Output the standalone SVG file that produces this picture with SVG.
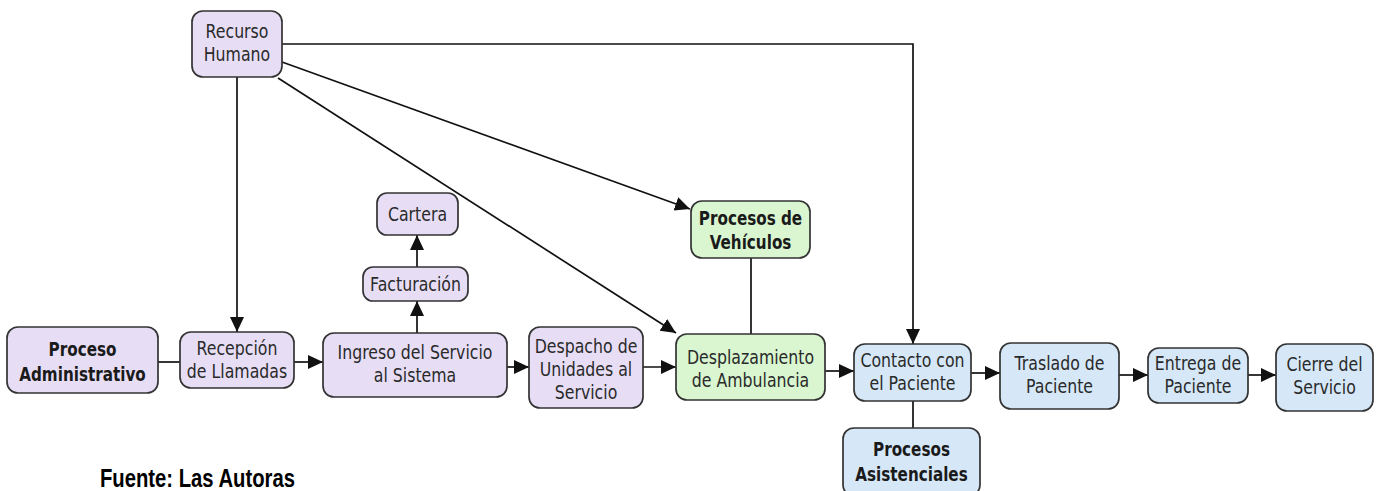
<svg xmlns="http://www.w3.org/2000/svg" width="1378" height="491" viewBox="0 0 1378 491">
<defs>
<marker id="ah" markerUnits="userSpaceOnUse" markerWidth="16" markerHeight="16" refX="15" refY="8" orient="auto">
<path d="M0,1 L15,8 L0,15 Z" fill="#111"/>
</marker>
<style>
.box{stroke:#333;stroke-width:1.7}
.p{fill:#e7def6}
.g{fill:#d9f6d0}
.b{fill:#d6e8f8}
.t{font-family:"DejaVu Sans",Verdana,sans-serif;font-size:19px;fill:#2a2a2a;text-anchor:middle}
.tb{font-family:"DejaVu Sans",Verdana,sans-serif;font-size:19px;font-weight:bold;fill:#1a1a1a;text-anchor:middle}
.c{fill:none;stroke:#111;stroke-width:1.7}
.src{font-family:"Liberation Sans",Arial,sans-serif;font-size:25px;font-weight:bold;fill:#000}
</style>
</defs>
<rect width="1378" height="491" fill="#fff"/>
<g id="connectors">
<polyline class="c" points="282,44 913,44 913,344" marker-end="url(#ah)"/>
<line class="c" x1="237" y1="77" x2="237" y2="332" marker-end="url(#ah)"/>
<line class="c" x1="282" y1="62" x2="690" y2="209" marker-end="url(#ah)"/>
<line class="c" x1="278" y1="78" x2="676" y2="333" marker-end="url(#ah)"/>
<line class="c" x1="417" y1="333" x2="417" y2="301" marker-end="url(#ah)"/>
<line class="c" x1="417" y1="267" x2="417" y2="235" marker-end="url(#ah)"/>
<line class="c" x1="158" y1="362" x2="180" y2="362"/>
<line class="c" x1="294" y1="362" x2="323" y2="362" marker-end="url(#ah)"/>
<line class="c" x1="507" y1="367" x2="529" y2="367" marker-end="url(#ah)"/>
<line class="c" x1="643" y1="367" x2="676" y2="367" marker-end="url(#ah)"/>
<line class="c" x1="751" y1="258" x2="751" y2="334"/>
<line class="c" x1="825" y1="371" x2="854" y2="371" marker-end="url(#ah)"/>
<line class="c" x1="971" y1="373" x2="1000" y2="373" marker-end="url(#ah)"/>
<line class="c" x1="1119" y1="375" x2="1148" y2="375" marker-end="url(#ah)"/>
<line class="c" x1="1248" y1="375" x2="1276" y2="375" marker-end="url(#ah)"/>
<line class="c" x1="913" y1="401" x2="913" y2="428"/>
</g>
<g id="recurso-humano">
<rect class="box p" x="192" y="11" width="90" height="66" rx="11"/>
<text class="t" transform="translate(237 0) scale(.83 1)" y="38">Recurso</text>
<text class="t" transform="translate(237 0) scale(.83 1)" y="61">Humano</text>
</g>
<g id="cartera">
<rect class="box p" x="377" y="193" width="81" height="42" rx="10"/>
<text class="t" transform="translate(417.5 0) scale(.83 1)" y="221">Cartera</text>
</g>
<g id="facturacion">
<rect class="box p" x="363" y="267" width="105" height="34" rx="10"/>
<text class="t" transform="translate(415.5 0) scale(.83 1)" y="291">Facturación</text>
</g>
<g id="proceso-administrativo">
<rect class="box p" x="7" y="327" width="151" height="66" rx="11"/>
<text class="tb" transform="translate(82.5 0) scale(.8 1)" y="356">Proceso</text>
<text class="tb" transform="translate(82.5 0) scale(.8 1)" y="381">Administrativo</text>
</g>
<g id="recepcion">
<rect class="box p" x="180" y="332" width="114" height="56" rx="11"/>
<text class="t" transform="translate(237 0) scale(.83 1)" y="355">Recepción</text>
<text class="t" transform="translate(237 0) scale(.83 1)" y="378">de Llamadas</text>
</g>
<g id="ingreso">
<rect class="box p" x="323" y="333" width="184" height="64" rx="11"/>
<text class="t" transform="translate(415 0) scale(.83 1)" y="359">Ingreso del Servicio</text>
<text class="t" transform="translate(415 0) scale(.83 1)" y="382">al Sistema</text>
</g>
<g id="despacho">
<rect class="box p" x="529" y="327" width="114" height="81" rx="11"/>
<text class="t" transform="translate(586 0) scale(.83 1)" y="353">Despacho de</text>
<text class="t" transform="translate(586 0) scale(.83 1)" y="376">Unidades al</text>
<text class="t" transform="translate(586 0) scale(.83 1)" y="399">Servicio</text>
</g>
<g id="procesos-vehiculos">
<rect class="box g" x="691" y="201" width="119" height="57" rx="11"/>
<text class="tb" transform="translate(750.5 0) scale(.8 1)" y="225">Procesos de</text>
<text class="tb" transform="translate(750.5 0) scale(.8 1)" y="249">Vehículos</text>
</g>
<g id="desplazamiento">
<rect class="box g" x="676" y="334" width="149" height="66" rx="11"/>
<text class="t" transform="translate(750.5 0) scale(.83 1)" y="364">Desplazamiento</text>
<text class="t" transform="translate(750.5 0) scale(.83 1)" y="387">de Ambulancia</text>
</g>
<g id="contacto">
<rect class="box b" x="854" y="344" width="117" height="57" rx="11"/>
<text class="t" transform="translate(912.5 0) scale(.83 1)" y="367">Contacto con</text>
<text class="t" transform="translate(912.5 0) scale(.83 1)" y="390">el Paciente</text>
</g>
<g id="procesos-asistenciales">
<rect class="box b" x="843" y="428" width="137" height="68" rx="11"/>
<text class="tb" transform="translate(911.5 0) scale(.8 1)" y="456">Procesos</text>
<text class="tb" transform="translate(911.5 0) scale(.8 1)" y="481">Asistenciales</text>
</g>
<g id="traslado">
<rect class="box b" x="1000" y="343" width="119" height="66" rx="11"/>
<text class="t" transform="translate(1059.5 0) scale(.83 1)" y="370">Traslado de</text>
<text class="t" transform="translate(1059.5 0) scale(.83 1)" y="393">Paciente</text>
</g>
<g id="entrega">
<rect class="box b" x="1148" y="348" width="100" height="55" rx="11"/>
<text class="t" transform="translate(1198 0) scale(.83 1)" y="370">Entrega de</text>
<text class="t" transform="translate(1198 0) scale(.83 1)" y="393">Paciente</text>
</g>
<g id="cierre">
<rect class="box b" x="1276" y="344" width="97" height="67" rx="11"/>
<text class="t" transform="translate(1324.5 0) scale(.83 1)" y="371">Cierre del</text>
<text class="t" transform="translate(1324.5 0) scale(.83 1)" y="394">Servicio</text>
</g>
<text class="src" transform="translate(100 0) scale(.81 1)" y="487">Fuente: Las Autoras</text>
</svg>
